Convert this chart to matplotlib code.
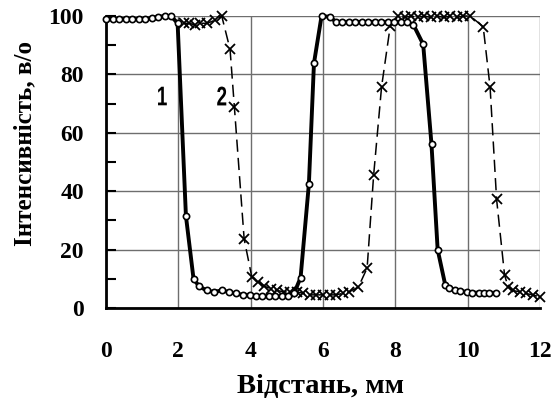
import numpy as np
import matplotlib
matplotlib.use("Agg")
import matplotlib.pyplot as plt
from matplotlib.textpath import TextPath
from matplotlib.font_manager import FontProperties
from matplotlib.patches import PathPatch
from matplotlib.transforms import Affine2D

# curve 1 (solid line, open circles)
x1 = [0.0, 0.18, 0.36, 0.54, 0.72, 0.9, 1.08, 1.26, 1.44, 1.62, 1.8, 1.98,
      2.21, 2.42, 2.57, 2.78, 2.98, 3.2, 3.4, 3.59, 3.78, 3.97, 4.14,
      4.32, 4.5, 4.68, 4.86, 5.04, 5.2, 5.38, 5.61, 5.75, 5.96, 6.2,
      6.35, 6.53, 6.71, 6.89, 7.07, 7.25, 7.43, 7.61, 7.79, 7.97, 8.15, 8.33, 8.5,
      8.77, 9.0, 9.17, 9.38, 9.49, 9.66, 9.8, 9.99, 10.13, 10.3, 10.45, 10.6, 10.77]
y1 = [99, 99, 99, 99, 99, 99, 99, 99.3, 99.7, 100, 100, 97.5,
      31.5, 10, 7.5, 6, 5.5, 6, 5.5, 5, 4.5, 4.5, 4,
      4, 4, 4, 4, 4, 5, 10.4, 42.5, 83.8, 100, 99.7,
      98, 98, 98, 98, 98, 98, 98, 98, 98, 98, 98, 98, 97,
      90.3, 56, 20, 7.9, 6.8, 6, 5.8, 5.5, 5.3, 5.2, 5.2, 5.2, 5.2]

# curve 2 (dashed line, crosses)
x2 = [2.15, 2.3, 2.45, 2.6, 2.8, 3.0, 3.2, 3.43, 3.55, 3.82, 4.03, 4.2,
      4.38, 4.56, 4.74, 4.92, 5.1, 5.28, 5.46, 5.64, 5.82, 6.0, 6.18, 6.36,
      6.54, 6.72, 6.98, 7.22, 7.4, 7.62, 7.86, 8.08, 8.26, 8.44, 8.62, 8.8,
      8.98, 9.16, 9.34, 9.52, 9.7, 9.88, 10.07, 10.43, 10.62, 10.8, 11.02,
      11.12, 11.25, 11.45, 11.6, 11.8, 12.0]
y2 = [97.5, 97.5, 97, 97.5, 97.5, 98.5, 100, 88.6, 68.8, 23.6, 10.7, 9,
      7.5, 6.5, 6, 5.5, 5.5, 5.5, 5, 4.5, 4.5, 4.5, 4.5, 4.5,
      5, 5.5, 7.2, 13.7, 45.5, 75.8, 96.6, 100, 99.5, 100, 99.5, 100,
      99.5, 100, 99.5, 100, 99.5, 100, 100, 96.3, 75.6, 37.2, 11.3,
      7.2, 6, 5.5, 5, 4.5, 3.8]

xticks = [0, 2, 4, 6, 8, 10, 12]
yticks = [0, 20, 40, 60, 80, 100]

# curve labels
curve_names = ["1", "2"]
name_x = [1.56, 3.2]
name_y = [72.6, 72.6]

serif = "Liberation Serif"

fig = plt.figure(figsize=(5.58, 4.03), dpi=100)
ax = fig.add_axes([106 / 558, 1 - 308 / 403, (540 - 106) / 558, (308 - 16) / 403])

ax.plot(x2, y2, color="black", lw=1.1, dashes=(8, 4), marker="x", ms=6.5,
        mew=1.3, clip_on=False, zorder=3)
ax.plot(x1, y1, color="black", lw=2.8, marker="o", ms=4.5, mfc="white",
        mec="black", mew=1.2, clip_on=False, zorder=4)

ax.set_xlim(0, 12)
ax.set_ylim(0, 100)
ax.set_xticks(xticks)
ax.set_yticks(yticks)
ax.set_yticks(np.arange(10, 100, 20), minor=True)
ax.set_xticklabels([str(v) for v in xticks], fontfamily=serif, fontweight="bold", fontsize=17)
ax.set_yticklabels([str(v) for v in yticks], fontfamily=serif, fontweight="bold", fontsize=17)
ax.tick_params(axis="y", which="both", direction="in", length=7, width=1.5, pad=16)
ax.tick_params(axis="x", which="both", direction="in", length=0, pad=24)

ax.grid(True, which="major", color="#6e6e6e", lw=1)
ax.set_axisbelow(True)
ax.spines["top"].set_visible(False)
ax.spines["right"].set_visible(False)
ax.spines["left"].set_linewidth(2)
ax.spines["bottom"].set_linewidth(2)

ax.set_xlabel("Відстань, мм", fontfamily=serif, fontweight="bold", fontsize=20.5)
ax.xaxis.set_label_coords(0.494, -0.225)
ax.set_ylabel("Інтенсивність, в/о", fontfamily=serif, fontweight="bold", fontsize=18)
ax.yaxis.set_label_coords(-0.16, 0.565)

# narrow bold digits for curve numbers
fp = FontProperties(family="Liberation Sans", weight="bold")
for name, tx, ty in zip(curve_names, name_x, name_y):
    tp = TextPath((0, 0), name, size=27, prop=fp)
    ext = tp.get_extents()
    cx, cy = ax.transData.transform((tx, ty))
    tr = (Affine2D().translate(-(ext.x0 + ext.x1) / 2, -(ext.y0 + ext.y1) / 2)
          .scale(0.7, 1.0).translate(cx, cy))
    patch = PathPatch(tr.transform_path(tp), color="black", lw=0,
                      transform=None, zorder=5)
    fig.add_artist(patch)

fig.savefig("out.png", dpi=100)
